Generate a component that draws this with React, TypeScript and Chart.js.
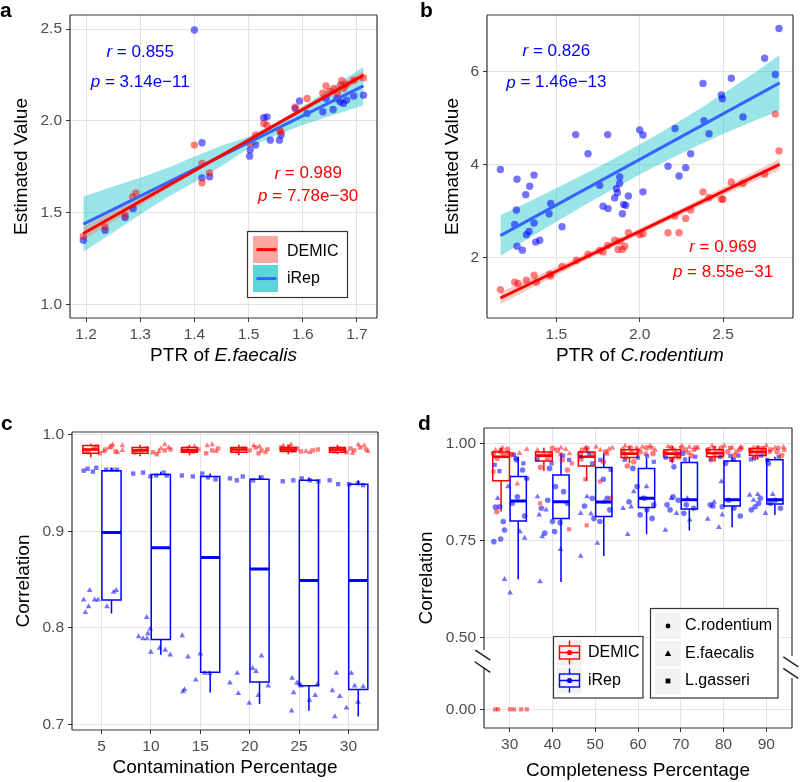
import React, { useEffect, useRef } from "react";
import { Chart, registerables } from "chart.js";
Chart.register(...registerables);

type P = [number, number];

// ---------------- Panel a data ----------------
const aXTicks = [1.2, 1.3, 1.4, 1.5, 1.6, 1.7];
const aYTicks = [1.0, 1.5, 2.0, 2.5];
const aIrepPoints: P[] = [
  [1.195, 1.35], [1.235, 1.405], [1.272, 1.474], [1.287, 1.523], [1.4, 2.495], [1.414, 1.881],
  [1.414, 1.69], [1.428, 1.696], [1.502, 1.808], [1.503, 1.841], [1.513, 1.868], [1.528, 2.017],
  [1.534, 2.022], [1.54, 1.895], [1.557, 1.895], [1.56, 1.923], [1.586, 2.068], [1.594, 2.108],
  [1.608, 2.041], [1.637, 2.05], [1.643, 2.122], [1.656, 2.062], [1.663, 2.122], [1.669, 2.104],
  [1.675, 2.095], [1.681, 2.113], [1.694, 2.135], [1.712, 2.14],
];
const aDemicPoints: P[] = [
  [1.195, 1.372], [1.235, 1.423], [1.272, 1.487], [1.286, 1.587], [1.292, 1.608], [1.4, 1.868],
  [1.414, 1.768], [1.414, 1.663], [1.428, 1.717], [1.502, 1.877], [1.513, 1.923], [1.528, 1.986],
  [1.534, 1.977], [1.557, 1.95], [1.56, 1.94], [1.586, 2.074], [1.608, 2.122], [1.637, 2.15],
  [1.643, 2.19], [1.657, 2.177], [1.664, 2.15], [1.67, 2.195], [1.672, 2.219], [1.676, 2.177],
  [1.694, 2.222], [1.712, 2.235], [1.68, 2.2], [1.65, 2.16],
];
const aLineX = [1.195, 1.712];
const aDemicLine = [1.387, 2.249];
const aIrepLine = [1.438, 2.19];
const aBandX = [1.195, 1.25, 1.3, 1.35, 1.4, 1.45, 1.5, 1.55, 1.6, 1.65, 1.712];
const aIrepUpper = [1.588, 1.643, 1.691, 1.744, 1.806, 1.864, 1.914, 1.99, 2.077, 2.175, 2.295];
const aIrepLower = [1.288, 1.393, 1.491, 1.584, 1.666, 1.754, 1.85, 1.92, 1.977, 2.025, 2.085];
const aDemicUpper = [1.422, 1.507, 1.584, 1.663, 1.742, 1.823, 1.905, 1.99, 2.076, 2.163, 2.274];
const aDemicLower = [1.352, 1.451, 1.54, 1.629, 1.716, 1.801, 1.885, 1.968, 2.048, 2.127, 2.224];

// ---------------- Panel b data ----------------
const bXTicks = [1.5, 2.0, 2.5];
const bYTicks = [2, 4, 6];
const bIrepPoints: P[] = [
  [1.164, 3.9], [1.264, 3.69], [1.26, 3.03], [1.25, 2.72], [1.264, 2.25], [1.296, 2.165], [1.316, 3.36],
  [1.34, 3.54], [1.366, 3.78], [1.366, 2.75], [1.32, 2.5], [1.336, 2.57], [1.376, 2.34], [1.4, 2.38],
  [1.456, 2.95], [1.466, 3.17], [1.534, 2.67], [1.616, 4.65], [1.69, 4.24], [1.76, 3.56], [1.78, 3.11],
  [1.808, 4.65], [1.81, 3.06], [1.85, 3.29], [1.86, 3.49], [1.866, 3.4], [1.88, 3.6], [1.88, 3.74],
  [1.896, 2.95], [1.904, 3.15], [1.916, 3.13], [1.932, 3.33], [2.0, 4.75], [2.02, 4.64], [2.02, 3.42],
  [2.17, 3.97], [2.212, 4.78], [2.236, 3.76], [2.276, 3.94], [2.306, 4.24], [2.38, 5.75], [2.386, 4.95],
  [2.416, 4.67], [2.49, 5.5], [2.496, 5.42], [2.55, 5.86], [2.62, 5.03], [2.75, 6.29], [2.814, 5.94],
  [2.836, 6.93],
];
const bDemicPoints: P[] = [
  [1.164, 1.32], [1.25, 1.48], [1.27, 1.45], [1.32, 1.52], [1.366, 1.63], [1.38, 1.48], [1.46, 1.65],
  [1.466, 1.61], [1.534, 1.82], [1.62, 1.95], [1.69, 2.08], [1.76, 2.16], [1.78, 2.13], [1.808, 2.27],
  [1.85, 2.38], [1.87, 2.18], [1.88, 2.36], [1.896, 2.18], [1.91, 2.25], [1.932, 2.54], [2.0, 2.5],
  [2.02, 2.52], [2.17, 2.54], [2.212, 2.9], [2.236, 2.54], [2.276, 2.85], [2.306, 3.03], [2.38, 3.42],
  [2.416, 3.3], [2.49, 3.26], [2.5, 3.26], [2.55, 3.63], [2.62, 3.6], [2.75, 3.8], [2.814, 5.09],
  [2.836, 4.3],
];
const bLineX = [1.164, 2.84];
const bDemicLine = [1.14, 4.01];
const bIrepLine = [2.48, 5.76];
const bBandX = [1.164, 1.3, 1.5, 1.7, 1.9, 2.1, 2.3, 2.5, 2.7, 2.84];
const bIrepUpper = [2.92, 3.146, 3.498, 3.859, 4.24, 4.642, 5.073, 5.525, 6.006, 6.36];
const bIrepLower = [2.04, 2.346, 2.778, 3.199, 3.6, 3.982, 4.333, 4.665, 4.966, 5.16];
const bDemicUpper = [1.27, 1.483, 1.806, 2.128, 2.46, 2.802, 3.155, 3.507, 3.87, 4.13];
const bDemicLower = [1.01, 1.263, 1.626, 1.988, 2.34, 2.682, 3.015, 3.347, 3.67, 3.89];

// ---------------- Panel c data ----------------
const cCategories = [5, 10, 15, 20, 25, 30];
const cYTicks = [0.7, 0.8, 0.9, 1.0];
// box stats: low whisker, Q1, median, Q3, high whisker
const cDemicLow = [0.977, 0.978, 0.979, 0.979, 0.98, 0.98];
const cDemicQ1 = [0.981, 0.981, 0.982, 0.982, 0.983, 0.982];
const cDemicMed = [0.985, 0.984, 0.984, 0.985, 0.985, 0.985];
const cDemicQ3 = [0.989, 0.987, 0.987, 0.987, 0.987, 0.987];
const cDemicHigh = [0.991, 0.99, 0.99, 0.99, 0.99, 0.99];
const cIrepLow = [0.815, 0.772, 0.733, 0.721, 0.714, 0.708];
const cIrepQ1 = [0.829, 0.788, 0.754, 0.744, 0.74, 0.736];
const cIrepMed = [0.899, 0.883, 0.873, 0.861, 0.849, 0.849];
const cIrepQ3 = [0.963, 0.959, 0.957, 0.954, 0.953, 0.949];
const cIrepHigh = [0.966, 0.962, 0.96, 0.958, 0.956, 0.953];
const cDemicSquares: P[] = [
  [3.3, 0.984], [3.7, 0.982], [4.2, 0.986], [4.8, 0.981], [5.4, 0.985], [6.0, 0.988], [6.4, 0.983], [4.5, 0.988],
  [8.4, 0.982], [9.0, 0.984], [9.6, 0.986], [10.2, 0.982], [10.6, 0.98], [11.4, 0.984], [12.0, 0.985],
  [13.2, 0.984], [13.7, 0.986], [14.2, 0.983], [14.8, 0.985], [15.6, 0.981], [16.2, 0.984], [16.8, 0.986],
  [18.2, 0.985], [18.8, 0.983], [19.4, 0.986], [20.0, 0.984], [20.6, 0.987], [21.2, 0.984], [21.8, 0.985], [20.9, 0.981],
  [23.2, 0.987], [23.6, 0.985], [24.0, 0.988], [24.4, 0.984], [24.8, 0.986], [25.2, 0.983], [26.4, 0.984], [26.9, 0.985],
  [28.2, 0.985], [28.6, 0.983], [29.0, 0.986], [29.4, 0.984], [29.8, 0.982], [30.2, 0.986], [30.6, 0.984], [31.2, 0.987], [31.8, 0.985],
];
const cDemicTriangles: P[] = [
  [5.8, 0.987], [6.1, 0.99], [6.6, 0.982], [7.1, 0.989], [7.1, 0.984], [5.2, 0.983],
  [11.0, 0.986], [11.4, 0.99], [11.8, 0.987], [10.8, 0.983],
  [15.7, 0.989], [16.2, 0.99], [16.6, 0.983], [14.4, 0.988],
  [20.4, 0.989], [21.0, 0.988], [21.6, 0.982],
  [23.4, 0.989], [24.2, 0.99], [25.7, 0.983], [26.1, 0.982],
  [31.0, 0.99], [31.6, 0.989], [32.0, 0.983], [30.4, 0.981],
];
const cIrepSquares: P[] = [
  [3.18, 0.963], [3.58, 0.965], [4.12, 0.962], [4.46, 0.966], [5.47, 0.964], [6.05, 0.964], [6.55, 0.964],
  [8.2, 0.96], [9.2, 0.961], [9.95, 0.957], [10.54, 0.958], [11.28, 0.961], [11.6, 0.958],
  [13.13, 0.958], [14.24, 0.957], [15.2, 0.96], [15.78, 0.956], [16.55, 0.954],
  [18.0, 0.955], [18.7, 0.953], [19.3, 0.957], [20.35, 0.953], [21.2, 0.956],
  [23.35, 0.952], [24.42, 0.953], [25.27, 0.955], [26.1, 0.953], [26.97, 0.952],
  [28.1, 0.953], [28.96, 0.949], [30.07, 0.949], [30.98, 0.95], [31.5, 0.948],
];
const cIrepTriangles: P[] = [
  [3.18, 0.829], [3.68, 0.822], [3.35, 0.816], [3.79, 0.839], [4.29, 0.829], [4.63, 0.829], [5.54, 0.822], [6.21, 0.837], [6.48, 0.839],
  [9.57, 0.811], [8.75, 0.791], [9.19, 0.789], [9.59, 0.789], [9.69, 0.794], [9.93, 0.799], [9.99, 0.775], [10.87, 0.779], [11.44, 0.777], [11.95, 0.772],
  [13.17, 0.792], [13.4, 0.736], [13.24, 0.734], [13.75, 0.77], [14.53, 0.746], [15.0, 0.773], [15.44, 0.753], [15.94, 0.753],
  [18.0, 0.743], [18.74, 0.753], [18.85, 0.732], [19.95, 0.722], [20.3, 0.758], [20.65, 0.755], [20.88, 0.73], [21.2, 0.771], [21.88, 0.74],
  [24.25, 0.714], [24.45, 0.733], [24.3, 0.748], [24.8, 0.743], [25.04, 0.742], [25.2, 0.74], [26.05, 0.725], [26.64, 0.73], [26.88, 0.742],
  [28.62, 0.708], [28.38, 0.735], [28.78, 0.753], [29.12, 0.729], [29.8, 0.717], [30.3, 0.753], [30.64, 0.74], [30.98, 0.723], [31.5, 0.739],
];

// ---------------- Panel d data ----------------
const dCategories = [30, 40, 50, 60, 70, 80, 90];
const dYTickValues = [0.0, 0.5, 0.75, 1.0];
const dYTickLabels = ["0.00", "0.50", "0.75", "1.00"];
const dDemicLow = [0.826, 0.93, 0.905, 0.95, 0.95, 0.955, 0.96];
const dDemicQ1 = [0.905, 0.956, 0.943, 0.965, 0.965, 0.967, 0.97];
const dDemicMed = [0.967, 0.97, 0.967, 0.975, 0.975, 0.976, 0.98];
const dDemicQ3 = [0.979, 0.979, 0.979, 0.985, 0.985, 0.985, 0.988];
const dDemicHigh = [0.99, 0.99, 0.99, 0.995, 0.995, 0.995, 0.995];
const dIrepLow = [0.651, 0.644, 0.711, 0.767, 0.777, 0.785, 0.817];
const dIrepQ1 = [0.801, 0.808, 0.813, 0.836, 0.832, 0.84, 0.845];
const dIrepMed = [0.853, 0.851, 0.85, 0.86, 0.856, 0.856, 0.856];
const dIrepQ3 = [0.916, 0.92, 0.939, 0.937, 0.952, 0.956, 0.959];
const dIrepHigh = [0.967, 0.976, 0.976, 0.963, 0.967, 0.967, 0.967];
const dIrepCircles: P[] = [
  [26.3, 0.748], [27.9, 0.755], [28.8, 0.778], [28.5, 0.8], [26.7, 0.837], [27.7, 0.838], [30.6, 0.847], [31.8, 0.864], [33.5, 0.814], [33.97, 0.911], [33, 0.933], [31.6, 0.959],
  [37.4, 0.834], [38.2, 0.77], [40.5, 0.774], [41.8, 0.797], [42.6, 0.877], [43.5, 0.847], [38.9, 0.855], [40.7, 0.89], [40, 0.8], [39.3, 0.937],
  [49.7, 0.808], [51.1, 0.8], [52.8, 0.86], [53.4, 0.83], [51.9, 0.909], [49.3, 0.86], [47.5, 0.84],
  [59.8, 0.89], [60.5, 0.817], [62.1, 0.83], [63.3, 0.808], [63.7, 0.843], [58.8, 0.937], [57.9, 0.851], [61.5, 0.86],
  [66.8, 0.843], [68.2, 0.864], [69.4, 0.855], [70.7, 0.821], [71.3, 0.843], [73, 0.834], [70.5, 0.976], [68.4, 0.941], [67.5, 0.83],
  [76.9, 0.843], [79.7, 0.838], [81.2, 0.855], [82.4, 0.834], [83.9, 0.814], [77.5, 0.84], [80.5, 0.95],
  [87.4, 0.838], [88.2, 0.847], [88.6, 0.86], [91, 0.847], [92.1, 0.855], [93.3, 0.834], [86.5, 0.83], [90.5, 0.95],
];
const dIrepTriangles: P[] = [
  [28.8, 0.651], [30.1, 0.616], [29.6, 0.89], [32.4, 0.774], [33.5, 0.757], [27.2, 0.86],
  [36.5, 0.864], [36.9, 0.817], [37.6, 0.761], [37.1, 0.645], [41.9, 0.728], [38.5, 0.83],
  [46.6, 0.821], [46.6, 0.711], [48.1, 0.864], [50.5, 0.744], [52, 0.85], [49, 0.82],
  [56.5, 0.834], [57.6, 0.767], [58.4, 0.838], [59, 0.877], [62, 0.89], [61, 0.86],
  [66.4, 0.778], [69, 0.821], [72.1, 0.804], [67.8, 0.86], [71.5, 0.86],
  [76.3, 0.806], [78.9, 0.785], [79.5, 0.903], [79.7, 0.817], [77.8, 0.85],
  [86.1, 0.868], [87, 0.855], [89.8, 0.821], [91.5, 0.87], [88, 0.87],
];
const dIrepSquares: P[] = [
  [26.5, 0.946], [27.6, 0.93], [31.4, 0.963], [31.0, 0.972], [33.2, 0.95],
  [43.9, 0.959], [36.5, 0.96], [42.5, 0.97], [39.8, 0.95],
  [46.6, 0.967], [49.3, 0.95], [51.2, 0.959], [53.6, 0.933], [48.5, 0.975],
  [56.9, 0.959], [62.1, 0.969], [63.7, 0.954], [60, 0.965],
  [67.8, 0.959], [73.4, 0.967], [66.5, 0.965], [71, 0.96],
  [79.2, 0.967], [81.6, 0.969], [82.4, 0.959], [77, 0.96], [83.5, 0.97],
  [87.2, 0.963], [90.2, 0.959], [92.9, 0.967], [88.8, 0.97], [86.4, 0.96],
];
const dDemicCircles: P[] = [
  [27.1, 0.963], [27.9, 0.98], [29.5, 0.986], [30.2, 0.972], [27, 0.825], [26.2, 0.975], [28.6, 0.97],
  [37.2, 0.94], [38.9, 0.963], [40, 0.989], [41.1, 0.984], [42.3, 0.959], [43.5, 0.933], [39.5, 0.975],
  [47, 0.984], [48.1, 0.989], [49.3, 0.972], [52.4, 0.98], [51.9, 0.954], [46.5, 0.975],
  [56.5, 0.985], [57.5, 0.943], [59, 0.954], [60.5, 0.98], [62, 0.99], [63.5, 0.975], [58.2, 0.99],
  [66.5, 0.98], [67.8, 0.99], [69.2, 0.975], [71, 0.985], [72.5, 0.97], [73.5, 0.99], [68, 0.96],
  [76.5, 0.985], [78, 0.975], [79.5, 0.99], [81, 0.98], [82.5, 0.97], [83.8, 0.985], [77.2, 0.96],
  [86.5, 0.98], [88, 0.99], [89.5, 0.975], [91, 0.985], [92.5, 0.98], [93.6, 0.97], [87.2, 0.965],
];
const dDemicTriangles: P[] = [
  [26.7, 0.984], [29.5, 0.976], [31.8, 0.897], [34, 0.986], [32.3, 0.976], [28.3, 0.99],
  [36.5, 0.984], [43.1, 0.986], [42, 0.99], [38, 0.978], [44, 0.975],
  [51.2, 0.984], [53.2, 0.986], [54, 0.99], [50.2, 0.992], [47.8, 0.99],
  [57, 0.995], [61, 0.992], [62.8, 0.995], [64, 0.985], [59.6, 0.99],
  [67, 0.993], [70.3, 0.995], [72, 0.992], [74, 0.99], [68.8, 0.97],
  [77.3, 0.995], [80.2, 0.995], [82, 0.99], [84, 0.992], [79, 0.985],
  [87, 0.99], [90, 0.995], [92, 0.99], [94, 0.992], [89, 0.985],
];
const dDemicSquares: P[] = [
  [26.2, 0.929], [27.9, 0.985], [30.6, 0.974], [26.6, 0], [27.3, 0], [30.1, 0], [31.0, 0], [32.7, 0], [34.0, 0],
  [37.1, 0.847], [43.9, 0.78], [41.9, 0.973], [36.8, 0.97], [44.5, 0.95],
  [47.7, 0.909], [48, 0.79], [53.7, 0.861], [51.1, 0.903], [46.8, 0.96], [52.8, 0.975],
  [56.8, 0.975], [58.5, 0.98], [60, 0.985], [61.8, 0.975], [63.2, 0.99], [57.2, 0.965],
  [66.2, 0.975], [68.5, 0.985], [70, 0.99], [71.8, 0.978], [73, 0.985], [69.5, 0.965],
  [76.2, 0.985], [77.8, 0.99], [79.8, 0.975], [81.5, 0.99], [83, 0.98], [84.2, 0.99],
  [86.2, 0.985], [87.8, 0.975], [89.2, 0.99], [90.8, 0.98], [92.8, 0.99], [94.2, 0.985],
];

// ---------------- styles ----------------
const FONT = '"Liberation Sans", Arial, Helvetica, sans-serif';
const TICK_COLOR = "#4D4D4D";
const GRID = "#E4E4E4";
const FRAME = "#333333";
const RED = "#FF0000";
const BLUE = "#0000FF";
const SMOOTH_BLUE = "#3366FF";
const RED_PT = "rgba(255,0,0,0.5)";
const BLUE_PT = "rgba(0,0,255,0.55)";
const DEMIC_BAND = "rgba(248,118,109,0.4)";
const IREP_BAND = "rgba(0,191,196,0.4)";
const DEMIC_KEY = "rgba(248,118,109,0.64)";
const IREP_KEY = "rgba(0,191,196,0.64)";

// broken-axis mapping for panel d (values below 0.5 are compressed)
const D_ZERO = 0.3155;
const dDisp = (v: number) => (v >= 0.5 ? v : D_ZERO + (v * (0.5 - D_ZERO)) / 0.5);

const pairs = (xs: number[], ys: number[]) => xs.map((x, i) => ({ x, y: ys[i] }));
const toXY = (arr: P[], f = (v: number) => v) => arr.map(([x, y]) => ({ x, y: f(y) }));

function lineDS(data: any[], color: string, width: number) {
  return {
    type: "line", data, borderColor: color, borderWidth: width, pointRadius: 0, showLine: true,
    fill: false, tension: 0, spanGaps: false, borderCapStyle: "butt", borderJoinStyle: "miter",
  };
}
function bandDS(data: any[], color: string, fill: any) {
  return {
    type: "line", data, borderColor: "transparent", borderWidth: 0, pointRadius: 0, showLine: true,
    fill, backgroundColor: color, tension: 0,
  };
}
function ptDS(data: any[], color: string, style: string, r: number) {
  return {
    type: "scatter", data, backgroundColor: color, borderWidth: 0, borderColor: "transparent",
    pointStyle: style, pointRadius: r, pointHoverRadius: r, showLine: false,
  };
}
function boxData(cats: number[], off: number, half: number, lo: number[], q1: number[], q3: number[], hi: number[], f = (v: number) => v) {
  const d: any[] = [];
  cats.forEach((c, i) => {
    const x = c + off, l = x - half, r = x + half;
    d.push(
      { x, y: f(q1[i]) }, { x: r, y: f(q1[i]) }, { x: r, y: f(q3[i]) }, { x: l, y: f(q3[i]) }, { x: l, y: f(q1[i]) }, { x, y: f(q1[i]) },
      { x, y: null },
      { x, y: f(q3[i]) }, { x, y: f(hi[i]) }, { x, y: null },
      { x, y: f(q1[i]) }, { x, y: f(lo[i]) }, { x, y: null },
    );
  });
  return d;
}
function medData(cats: number[], off: number, half: number, med: number[], f = (v: number) => v) {
  const d: any[] = [];
  cats.forEach((c, i) => {
    const x = c + off;
    d.push({ x: x - half, y: f(med[i]) }, { x: x + half, y: f(med[i]) }, { x, y: null });
  });
  return d;
}

function linAxis(min: number, max: number, ticks: number[], labels: string[], isX: boolean, size: number) {
  return {
    type: "linear", min, max, bounds: "data",
    afterBuildTicks: (s: any) => { s.ticks = ticks.map((v) => ({ value: v })); },
    afterFit: (s: any) => { if (isX) s.height = size; else s.width = size; },
    ticks: {
      autoSkip: false, maxRotation: 0, minRotation: 0, color: TICK_COLOR,
      font: { family: FONT, size: 15.5 }, padding: isX ? 3 : 4,
      callback: (_v: any, i: number) => labels[i],
    },
    grid: { color: GRID, lineWidth: 1, drawTicks: true, tickLength: 4, tickColor: FRAME, tickWidth: 1 },
    border: { display: false },
    title: { display: false },
  };
}

type Seg = { t: string; italic?: boolean; bold?: boolean };
function drawRich(ctx: CanvasRenderingContext2D, segs: Seg[], x: number, y: number, size: number, color: string, rot = 0, align = "center") {
  ctx.save();
  ctx.translate(x, y);
  if (rot) ctx.rotate(rot);
  ctx.fillStyle = color;
  ctx.textBaseline = "middle";
  ctx.textAlign = "left";
  const fontOf = (s: Seg) => `${s.italic ? "italic " : ""}${s.bold ? "bold " : ""}${size}px ${FONT}`;
  let total = 0;
  const widths = segs.map((s) => { ctx.font = fontOf(s); const w = ctx.measureText(s.t).width; total += w; return w; });
  let cx = align === "center" ? -total / 2 : 0;
  segs.forEach((s, i) => { ctx.font = fontOf(s); ctx.fillText(s.t, cx, 0); cx += widths[i]; });
  ctx.restore();
}

function drawLetter(ctx: CanvasRenderingContext2D, t: string, x: number, y: number) {
  ctx.save();
  ctx.fillStyle = "#000";
  ctx.font = `bold 21px ${FONT}`;
  ctx.textAlign = "left";
  ctx.textBaseline = "alphabetic";
  ctx.fillText(t, x, y);
  ctx.restore();
}

function drawFrame(ctx: CanvasRenderingContext2D, ca: any, leftGap?: [number, number], rightGap?: [number, number]) {
  ctx.save();
  ctx.strokeStyle = FRAME;
  ctx.lineWidth = 1.2;
  const { left, right, top, bottom } = ca;
  ctx.beginPath();
  ctx.moveTo(left, top); ctx.lineTo(right, top);
  ctx.moveTo(left, bottom); ctx.lineTo(right, bottom);
  if (leftGap) {
    ctx.moveTo(left, top); ctx.lineTo(left, leftGap[0]);
    ctx.moveTo(left, leftGap[1]); ctx.lineTo(left, bottom);
  } else { ctx.moveTo(left, top); ctx.lineTo(left, bottom); }
  if (rightGap) {
    ctx.moveTo(right, top); ctx.lineTo(right, rightGap[0]);
    ctx.moveTo(right, rightGap[1]); ctx.lineTo(right, bottom);
  } else { ctx.moveTo(right, top); ctx.lineTo(right, bottom); }
  ctx.stroke();
  ctx.restore();
}

function decor(id: string, draw: (ctx: CanvasRenderingContext2D, chart: any) => void) {
  return {
    id,
    afterDraw(chart: any) {
      const ctx = chart.ctx as CanvasRenderingContext2D;
      ctx.save();
      draw(ctx, chart);
      ctx.restore();
    },
  };
}

function baseOptions(x: any, y: any, padding: any) {
  return {
    responsive: false, animation: false, events: [],
    layout: { padding },
    scales: { x, y },
    plugins: { legend: { display: false }, tooltip: { enabled: false } },
  };
}

function annot(ctx: CanvasRenderingContext2D, chart: any, v: string, sym: string, x: number, y: number, color: string) {
  const px = chart.scales.x.getPixelForValue(x);
  const py = chart.scales.y.getPixelForValue(y);
  drawRich(ctx, [{ t: sym, italic: true }, { t: " = " + v }], px, py, 17, color);
}

// ---------------- Panel a ----------------
function makeA(): any {
  const datasets = [
    lineDS(pairs(aLineX, aDemicLine), RED, 3),
    lineDS(pairs(aLineX, aIrepLine), SMOOTH_BLUE, 3),
    ptDS(toXY(aDemicPoints), RED_PT, "circle", 3.7),
    ptDS(toXY(aIrepPoints), BLUE_PT, "circle", 3.7),
    bandDS(pairs(aBandX, aDemicUpper), DEMIC_BAND, "+1"),
    bandDS(pairs(aBandX, aDemicLower), DEMIC_BAND, false),
    bandDS(pairs(aBandX, aIrepUpper), IREP_BAND, "+1"),
    bandDS(pairs(aBandX, aIrepLower), IREP_BAND, false),
  ];
  const ox = 0, oy = 0;
  return {
    type: "scatter",
    data: { datasets },
    options: baseOptions(
      linAxis(1.1704, 1.737, aXTicks, aXTicks.map((v) => v.toFixed(1)), true, 40),
      linAxis(0.927, 2.5763, aYTicks, aYTicks.map((v) => v.toFixed(1)), false, 70),
      { left: 0, top: 15, right: 23, bottom: 33 },
    ),
    plugins: [decor("decorA", (ctx, chart) => {
      const ca = chart.chartArea;
      drawFrame(ctx, ca);
      annot(ctx, chart, "0.855", "r", 1.3, 2.375, BLUE);
      annot(ctx, chart, "3.14e\u221211", "p", 1.3, 2.21, BLUE);
      annot(ctx, chart, "0.989", "r", 1.61, 1.712, RED);
      annot(ctx, chart, "7.78e\u221230", "p", 1.61, 1.59, RED);
      // legend
      ctx.fillStyle = "#fff"; ctx.fillRect(248, 232, 99, 65);
      ctx.strokeStyle = FRAME; ctx.lineWidth = 1.2; ctx.strokeRect(247.5, 231.5, 100, 66);
      ctx.fillStyle = DEMIC_KEY; ctx.fillRect(253, 236, 25, 27);
      ctx.fillStyle = IREP_KEY; ctx.fillRect(253, 265, 25, 27);
      ctx.lineWidth = 3;
      ctx.strokeStyle = RED; ctx.beginPath(); ctx.moveTo(256.5, 249.6); ctx.lineTo(276.5, 249.6); ctx.stroke();
      ctx.strokeStyle = SMOOTH_BLUE; ctx.beginPath(); ctx.moveTo(256.5, 278.6); ctx.lineTo(276.5, 278.6); ctx.stroke();
      drawRich(ctx, [{ t: "DEMIC" }], 287, 251.5, 16, "#000", 0, "left");
      drawRich(ctx, [{ t: "iRep" }], 287, 278.5, 16, "#000", 0, "left");
      // titles
      drawRich(ctx, [{ t: "PTR of " }, { t: "E.faecalis", italic: true }], (ca.left + ca.right) / 2, 356 - oy, 19, "#000");
      drawRich(ctx, [{ t: "Estimated Value" }], 22 - ox, (ca.top + ca.bottom) / 2, 19, "#000", -Math.PI / 2);
      drawLetter(ctx, "a", 0, 17);
    })],
  };
}

// ---------------- Panel b ----------------
function makeB(): any {
  const datasets = [
    lineDS(pairs(bLineX, bDemicLine), RED, 3),
    lineDS(pairs(bLineX, bIrepLine), SMOOTH_BLUE, 3),
    ptDS(toXY(bDemicPoints), RED_PT, "circle", 3.7),
    ptDS(toXY(bIrepPoints), BLUE_PT, "circle", 3.7),
    bandDS(pairs(bBandX, bDemicUpper), DEMIC_BAND, "+1"),
    bandDS(pairs(bBandX, bDemicLower), DEMIC_BAND, false),
    bandDS(pairs(bBandX, bIrepUpper), IREP_BAND, "+1"),
    bandDS(pairs(bBandX, bIrepLower), IREP_BAND, false),
  ];
  const ox = 400, oy = 0;
  return {
    type: "scatter",
    data: { datasets },
    options: baseOptions(
      linAxis(1.0837, 2.92, bXTicks, bXTicks.map((v) => v.toFixed(1)), true, 40),
      linAxis(0.71, 7.219, bYTicks, bYTicks.map((v) => String(v)), false, 87),
      { left: 0, top: 15, right: 7, bottom: 33 },
    ),
    plugins: [decor("decorB", (ctx, chart) => {
      const ca = chart.chartArea;
      drawFrame(ctx, ca);
      annot(ctx, chart, "0.826", "r", 1.5, 6.43, BLUE);
      annot(ctx, chart, "1.46e\u221213", "p", 1.5, 5.763, BLUE);
      annot(ctx, chart, "0.969", "r", 2.5, 2.237, RED);
      annot(ctx, chart, "8.55e\u221231", "p", 2.5, 1.699, RED);
      drawRich(ctx, [{ t: "PTR of " }, { t: "C.rodentium", italic: true }], (ca.left + ca.right) / 2, 356 - oy, 19, "#000");
      drawRich(ctx, [{ t: "Estimated Value" }], 453 - ox, (ca.top + ca.bottom) / 2, 19, "#000", -Math.PI / 2);
      drawLetter(ctx, "b", 420 - ox, 17);
    })],
  };
}

// ---------------- Panel c ----------------
function makeC(): any {
  const datasets = [
    ptDS(toXY(cDemicTriangles), RED_PT, "triangle", 3.3),
    ptDS(toXY(cDemicSquares), RED_PT, "rect", 3.1),
    ptDS(toXY(cIrepTriangles), BLUE_PT, "triangle", 3.3),
    ptDS(toXY(cIrepSquares), BLUE_PT, "rect", 3.1),
    lineDS(medData(cCategories, -1.1, 0.8, cDemicMed), RED, 2.6),
    lineDS(boxData(cCategories, -1.1, 0.8, cDemicLow, cDemicQ1, cDemicQ3, cDemicHigh), RED, 1.5),
    lineDS(medData(cCategories, 1, 0.97, cIrepMed), BLUE, 3),
    lineDS(boxData(cCategories, 1, 0.97, cIrepLow, cIrepQ1, cIrepQ3, cIrepHigh), BLUE, 1.5),
  ];
  const ox = 0, oy = 391;
  return {
    type: "scatter",
    data: { datasets },
    options: baseOptions(
      linAxis(2, 33, cCategories, cCategories.map(String), true, 40),
      linAxis(0.6941, 1.0031, cYTicks, cYTicks.map((v) => v.toFixed(1)), false, 72),
      { left: 0, top: 41, right: 22, bottom: 12 },
    ),
    plugins: [decor("decorC", (ctx, chart) => {
      const ca = chart.chartArea;
      drawFrame(ctx, ca);
      drawRich(ctx, [{ t: "Contamination Percentage" }], (ca.left + ca.right) / 2, 767.7 - oy, 19, "#000");
      drawRich(ctx, [{ t: "Correlation" }], 24 - ox, (ca.top + ca.bottom) / 2, 19, "#000", -Math.PI / 2);
      drawLetter(ctx, "c", 1 - ox, 430 - oy);
    })],
  };
}

// ---------------- Panel d ----------------
function makeD(): any {
  const datasets = [
    ptDS(toXY(dDemicCircles, dDisp), RED_PT, "circle", 2.8),
    ptDS(toXY(dDemicTriangles, dDisp), RED_PT, "triangle", 3.3),
    ptDS(toXY(dDemicSquares, dDisp), RED_PT, "rect", 3),
    ptDS(toXY(dIrepCircles, dDisp), BLUE_PT, "circle", 2.8),
    ptDS(toXY(dIrepTriangles, dDisp), BLUE_PT, "triangle", 3.3),
    ptDS(toXY(dIrepSquares, dDisp), BLUE_PT, "rect", 3),
    lineDS(medData(dCategories, -2, 1.95, dDemicMed, dDisp), RED, 2.6),
    lineDS(boxData(dCategories, -2, 1.95, dDemicLow, dDemicQ1, dDemicQ3, dDemicHigh, dDisp), RED, 1.5),
    lineDS(medData(dCategories, 2, 1.9, dIrepMed, dDisp), BLUE, 3),
    lineDS(boxData(dCategories, 2, 1.9, dIrepLow, dIrepQ1, dIrepQ3, dIrepHigh, dDisp), BLUE, 1.5),
  ];
  const ox = 400, oy = 391;
  return {
    type: "scatter",
    data: { datasets },
    options: baseOptions(
      linAxis(24, 96, dCategories, dCategories.map(String), true, 40),
      linAxis(0.2673, 1.0412, dYTickValues.map(dDisp), dYTickLabels, false, 84),
      { left: 0, top: 37, right: 8, bottom: 14 },
    ),
    plugins: [decor("decorD", (ctx, chart) => {
      const ca = chart.chartArea;
      const cyL = chart.scales.y.getPixelForValue(0.44);
      const cyR = cyL + 6.5;
      drawFrame(ctx, ca, [cyL - 11, cyL + 7], [cyR - 11.5, cyR + 10.5]);
      // axis break marks
      ctx.strokeStyle = "#222"; ctx.lineWidth = 1.5;
      ctx.beginPath();
      ctx.moveTo(ca.left - 8.7, cyL - 11); ctx.lineTo(ca.left + 6.3, cyL - 1);
      ctx.moveTo(ca.left - 9.3, cyL + 0.7); ctx.lineTo(ca.left + 6.3, cyL + 11.3);
      ctx.moveTo(ca.right - 8.7, cyR - 10.8); ctx.lineTo(ca.right + 6.3, cyR - 0.8);
      ctx.moveTo(ca.right - 8.7, cyR + 0.8); ctx.lineTo(ca.right + 6.3, cyR + 10.8);
      ctx.stroke();
      // legend 1: methods
      const L1x = 553 - ox, L1y = 636 - oy;
      ctx.fillStyle = "#fff"; ctx.fillRect(L1x, L1y, 90, 62);
      ctx.strokeStyle = FRAME; ctx.lineWidth = 1.2; ctx.strokeRect(L1x + 0.5, L1y + 0.5, 89.5, 61.5);
      const rows1: [string, string, number][] = [["DEMIC", RED, 652.5], ["iRep", BLUE, 680.5]];
      rows1.forEach(([label, col, cy]) => {
        const y = cy - oy;
        ctx.fillStyle = "#F2F2F2"; ctx.fillRect(557 - ox, y - 13, 25, 26);
        const gx = 569.5 - ox;
        ctx.strokeStyle = col; ctx.lineWidth = 1.4;
        ctx.beginPath();
        ctx.moveTo(gx, y - 12); ctx.lineTo(gx, y - 6.5);
        ctx.moveTo(gx, y + 6.5); ctx.lineTo(gx, y + 12);
        ctx.moveTo(559.5 - ox, y); ctx.lineTo(579.5 - ox, y);
        ctx.stroke();
        ctx.strokeRect(559.5 - ox, y - 6.5, 20, 13);
        ctx.fillStyle = col; ctx.beginPath(); ctx.arc(gx, y, 2.6, 0, Math.PI * 2); ctx.fill();
        drawRich(ctx, [{ t: label }], 588 - ox, y, 16, "#000", 0, "left");
      });
      // legend 2: species
      const L2x = 650 - ox, L2y = 608 - oy;
      ctx.fillStyle = "#fff"; ctx.fillRect(L2x, L2y, 128, 90);
      ctx.strokeStyle = FRAME; ctx.lineWidth = 1.2; ctx.strokeRect(L2x + 0.5, L2y + 0.5, 127.5, 89.5);
      const rows2: [string, string, number][] = [["C.rodentium", "circle", 626], ["E.faecalis", "triangle", 653.5], ["L.gasseri", "rect", 681]];
      rows2.forEach(([label, shape, cy]) => {
        const y = cy - oy;
        const kx = 668 - ox;
        ctx.fillStyle = "#F2F2F2"; ctx.fillRect(655 - ox, y - 12.5, 26, 25.5);
        ctx.fillStyle = "#000";
        ctx.beginPath();
        if (shape === "circle") ctx.arc(kx, y, 2.4, 0, Math.PI * 2);
        else if (shape === "triangle") { ctx.moveTo(kx, y - 3.2); ctx.lineTo(kx + 3.2, y + 2.4); ctx.lineTo(kx - 3.2, y + 2.4); ctx.closePath(); }
        else ctx.rect(kx - 2.4, y - 2.4, 4.8, 4.8);
        ctx.fill();
        drawRich(ctx, [{ t: label }], 685 - ox, y, 16, "#000", 0, "left");
      });
      drawRich(ctx, [{ t: "Completeness Percentage" }], (ca.left + ca.right) / 2, 771 - oy, 19, "#000");
      drawRich(ctx, [{ t: "Correlation" }], 427 - ox, (ca.top + ca.bottom) / 2, 19, "#000", -Math.PI / 2);
      drawLetter(ctx, "d", 418 - ox, 430 - oy);
    })],
  };
}

function Panel({ left, top, make }: { left: number; top: number; make: () => any }) {
  const ref = useRef<HTMLCanvasElement>(null);
  useEffect(() => {
    const chart = new Chart(ref.current as HTMLCanvasElement, make());
    return () => chart.destroy();
  }, []);
  return (
    <canvas
      ref={ref}
      width={400}
      height={391}
      style={{ position: "absolute", left, top, width: 400, height: 391 }}
    />
  );
}

export default function App() {
  return (
    <div style={{ position: "absolute", left: 0, top: 0, width: 800, height: 782, background: "#fff", overflow: "hidden" }}>
      <Panel left={0} top={0} make={makeA} />
      <Panel left={400} top={0} make={makeB} />
      <Panel left={0} top={391} make={makeC} />
      <Panel left={400} top={391} make={makeD} />
    </div>
  );
}
